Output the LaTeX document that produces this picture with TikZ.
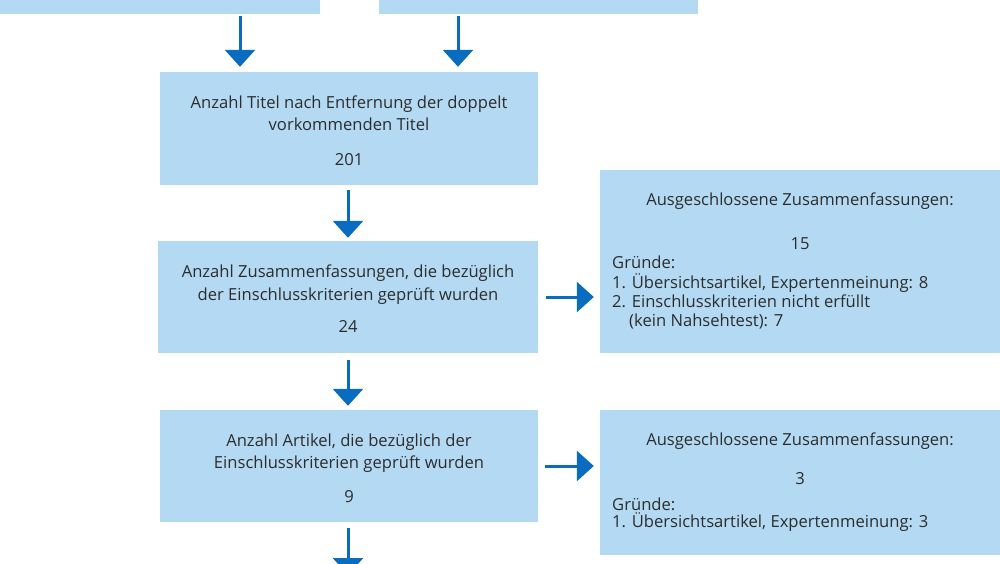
\documentclass[tikz,border=0pt]{standalone}
\usepackage{fontspec}
\setmainfont{Open Sans}
\usetikzlibrary{arrows.meta}
\definecolor{boxblue}{HTML}{B4DAF3}
\definecolor{arrblue}{HTML}{0A6CBE}
\definecolor{txt}{HTML}{2C2C2C}
\begin{document}
\begin{tikzpicture}[x=1pt,y=-1pt,
  box/.style={fill=boxblue, draw=none, inner sep=0pt},
  arr/.style={draw=arrblue, line width=3pt, -{Triangle[width=30pt,length=17pt]}},
  tl/.style={inner sep=0pt, anchor=base, text=txt, font=\fontsize{16.6}{20}\selectfont},
  tlw/.style={tl, anchor=base west}]
\useasboundingbox (0,0) rectangle (1000,563);
\clip (0,0) rectangle (1000,563);
% top boxes (cut off)
\node[box, minimum width=330pt, minimum height=74pt] (t1) at (155,-23) {};
\node[box, minimum width=319pt, minimum height=74pt] (t2) at (538.5,-23) {};
% main column
\node[box, minimum width=378pt, minimum height=113pt] (b2) at (349,128.5) {};
\node[box, minimum width=380pt, minimum height=112pt] (b3) at (348,297) {};
\node[box, minimum width=378pt, minimum height=112pt] (b4) at (349,466) {};
% right boxes
\node[box, minimum width=410pt, minimum height=183pt] (r1) at (805,261.5) {};
\node[box, minimum width=410pt, minimum height=145pt] (r2) at (805,482.5) {};
% texts b2
\node[tl] (b2a) at (349,108) {Anzahl Titel nach Entfernung der doppelt};
\node[tl] (b2b) at (349,130) {vorkommenden Titel};
\node[tl] (b2c) at (349,165) {201};
% texts b3
\node[tl] (b3a) at (348,277) {Anzahl Zusammenfassungen, die bezüglich};
\node[tl] (b3b) at (348,300) {der Einschlusskriterien geprüft wurden};
\node[tl] (b3c) at (348,332) {24};
% texts b4
\node[tl] (b4a) at (349,446) {Anzahl Artikel, die bezüglich der};
\node[tl] (b4b) at (349,468) {Einschlusskriterien geprüft wurden};
\node[tl] (b4c) at (349,502) {9};
% texts r1
\node[tl] (r1a) at (800,205) {Ausgeschlossene Zusammenfassungen:};
\node[tl] (r1b) at (800,249) {15};
\node[tlw] (r1c) at (612,268) {Gründe:};
\node[tlw] (r1d) at (612,288) {1. Übersichtsartikel, Expertenmeinung: 8};
\node[tlw] (r1e) at (612,307) {2. Einschlusskriterien nicht erfüllt};
\node[tlw] (r1f) at (629,326) {(kein Nahsehtest): 7};
% texts r2
\node[tl] (r2a) at (800,445) {Ausgeschlossene Zusammenfassungen:};
\node[tl] (r2b) at (800,484) {3};
\node[tlw] (r2c) at (612,510) {Gründe:};
\node[tlw] (r2d) at (612,527) {1. Übersichtsartikel, Expertenmeinung: 3};
% arrows
\coordinate (bend) at (348,575);
\draw[arr] ([xshift=85pt,yshift=-2pt]t1.south) -- ([xshift=-109pt,yshift=5pt]b2.north);
\draw[arr] ([xshift=-80.5pt,yshift=-2pt]t2.south) -- ([xshift=109pt,yshift=5pt]b2.north);
\draw[arr] ([xshift=-1pt,yshift=-5pt]b2.south) -- ([xshift=-1pt,yshift=3pt]b2.south |- b3.north);
\draw[arr] ([yshift=-7pt]b3.south) -- ([yshift=4pt]b4.north -| b3.south);
\draw[arr] ([xshift=-1pt,yshift=-6pt]b4.south) -- (bend);
\draw[arr] ([xshift=8pt]b3.east) -- ([xshift=-6pt]b3.east -| r1.west);
\draw[arr] ([xshift=7pt]b4.east) -- ([xshift=-6pt]b4.east -| r2.west);
\end{tikzpicture}
\end{document}
